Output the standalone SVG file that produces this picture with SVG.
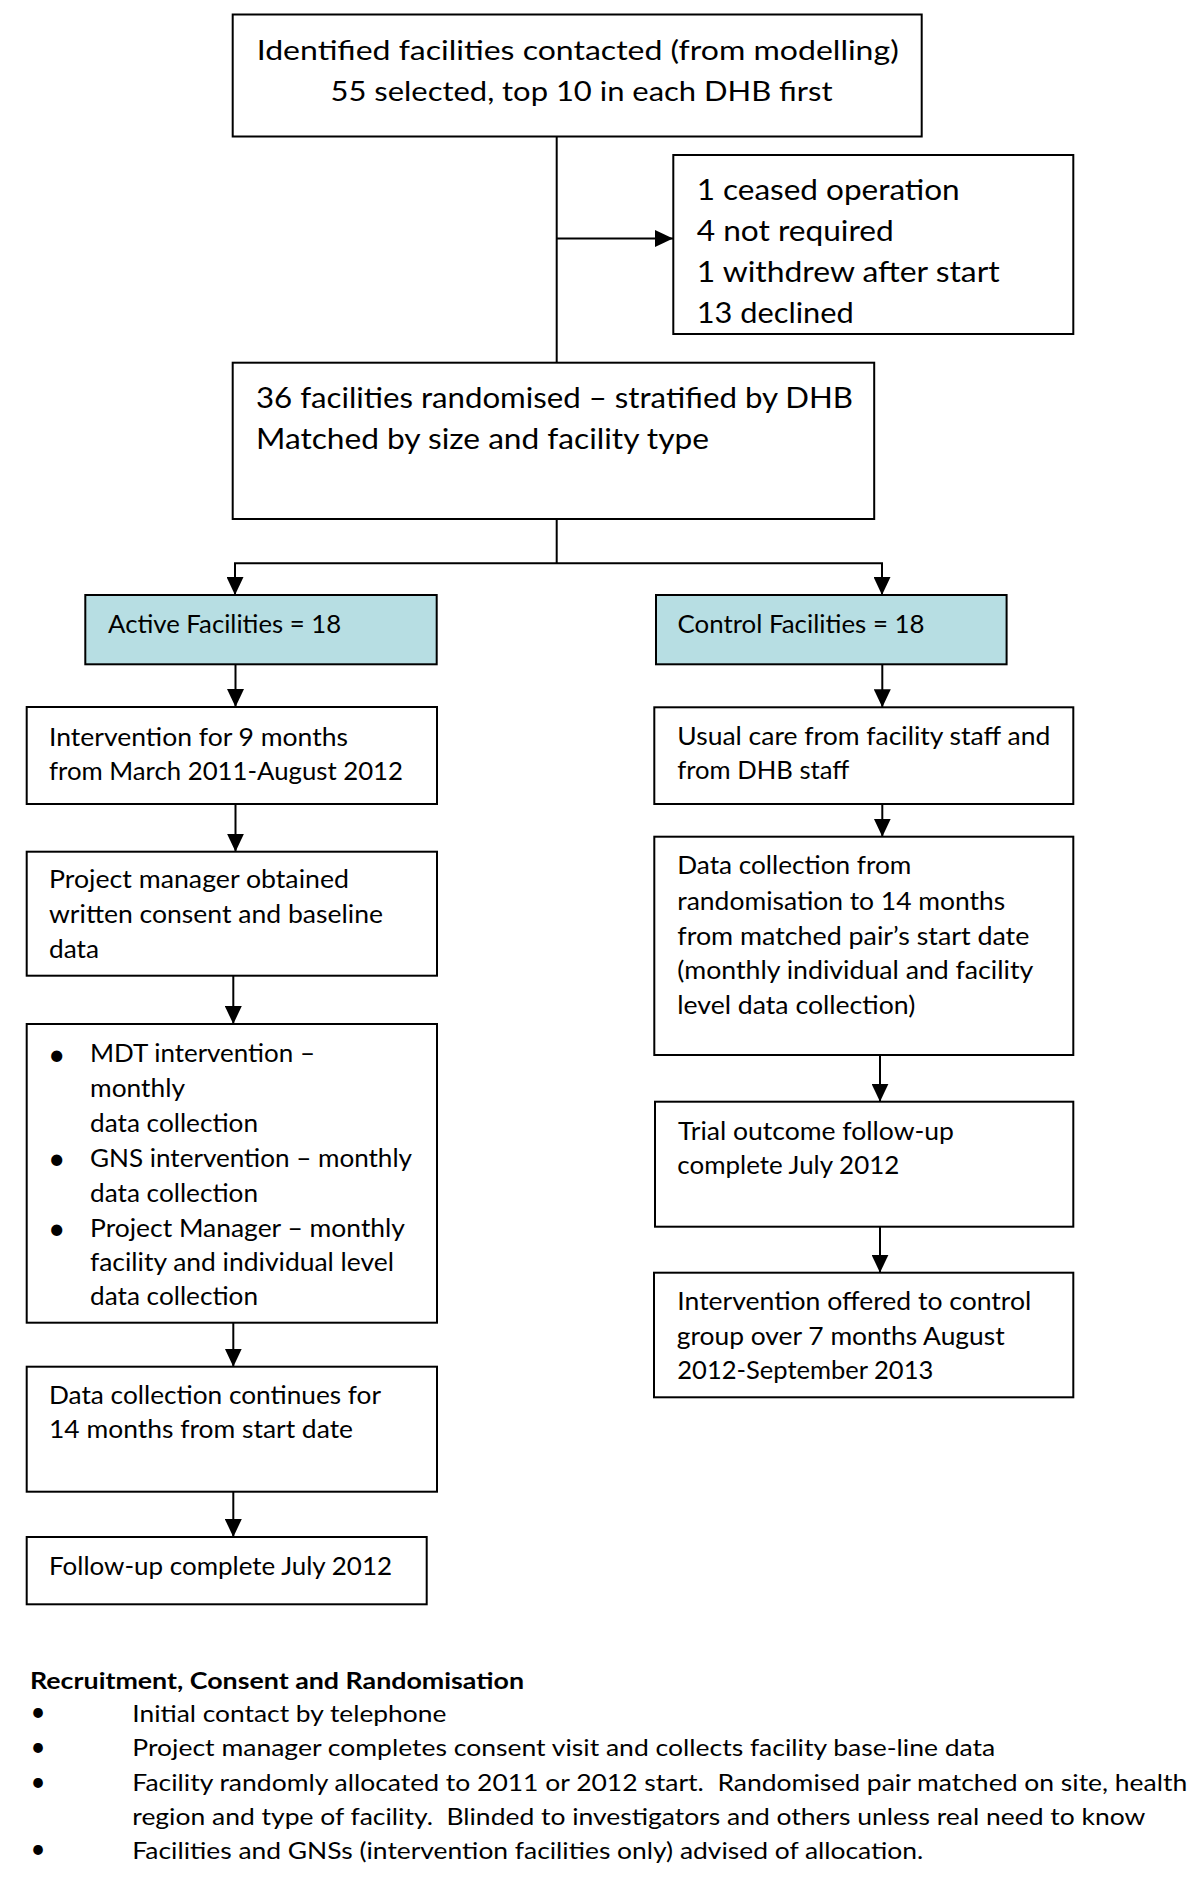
<svg xmlns="http://www.w3.org/2000/svg" width="1200" height="1884" viewBox="0 0 1200 1884">
<style>
  .box { fill: #ffffff; stroke: #000; stroke-width: 2; }
  .hl { fill: #b7dee3; stroke: #000; stroke-width: 2; }
  .t { font-family: Lato, "Open Sans", "Liberation Sans", sans-serif; fill: #000; font-size: 25px; }
  .t27 { font-size: 27px; }
  .t28 { font-size: 28px; }
  .t29 { font-size: 29px; }
  .t24 { font-size: 23.5px; }
  .bold { font-weight: bold; }
  .bul { font-family: Lato, "Liberation Sans", sans-serif; font-size: 30px; fill: #000; text-anchor: middle; }
  .bul2 { font-size: 26px; }
  .c { stroke: #000; stroke-width: 2; fill: none; }
</style>
<defs>
  <marker id="ah" viewBox="0 0 18 17" refX="18" refY="8.5" markerWidth="18" markerHeight="17" markerUnits="userSpaceOnUse" orient="auto">
    <path d="M0,0 L18,8.5 L0,17 z" fill="#000"/>
  </marker>
</defs>
<rect width="1200" height="1884" fill="#ffffff"/>

<g id="connectors">
  <line class="c" x1="556.7" y1="136.5" x2="556.7" y2="363"/>
  <line class="c" x1="556.7" y1="238.5" x2="673" y2="238.5" marker-end="url(#ah)"/>
  <line class="c" x1="556.7" y1="519" x2="556.7" y2="563.3"/>
  <line class="c" x1="234" y1="563.3" x2="883" y2="563.3"/>
  <line class="c" x1="235" y1="563.3" x2="235" y2="595" marker-end="url(#ah)"/>
  <line class="c" x1="882" y1="563.3" x2="882" y2="595" marker-end="url(#ah)"/>
  <line class="c" x1="235.5" y1="664.3" x2="235.5" y2="707" marker-end="url(#ah)"/>
  <line class="c" x1="235.5" y1="804" x2="235.5" y2="851.7" marker-end="url(#ah)"/>
  <line class="c" x1="233.3" y1="975.7" x2="233.3" y2="1024" marker-end="url(#ah)"/>
  <line class="c" x1="233.3" y1="1322.7" x2="233.3" y2="1366.7" marker-end="url(#ah)"/>
  <line class="c" x1="233.3" y1="1491.7" x2="233.3" y2="1537" marker-end="url(#ah)"/>
  <line class="c" x1="882.3" y1="664.3" x2="882.3" y2="707.3" marker-end="url(#ah)"/>
  <line class="c" x1="882.3" y1="804" x2="882.3" y2="836.7" marker-end="url(#ah)"/>
  <line class="c" x1="880" y1="1055" x2="880" y2="1101.7" marker-end="url(#ah)"/>
  <line class="c" x1="880" y1="1226.7" x2="880" y2="1272.7" marker-end="url(#ah)"/>
</g>

<g id="identified">
  <rect class="box" x="232.7" y="14.5" width="689" height="122"/>
  <text class="t t27" x="256.7" y="60" textLength="642" lengthAdjust="spacingAndGlyphs">Identified facilities contacted (from modelling)</text>
  <text class="t t27" x="330.5" y="101" textLength="502" lengthAdjust="spacingAndGlyphs">55 selected, top 10 in each DHB first</text>
</g>

<g id="excluded">
  <rect class="box" x="673.3" y="155" width="400" height="179"/>
  <text class="t t28" x="696.7" y="200" textLength="263" lengthAdjust="spacingAndGlyphs">1 ceased operation</text>
  <text class="t t28" x="696.7" y="240.7" textLength="197" lengthAdjust="spacingAndGlyphs">4 not required</text>
  <text class="t t28" x="696.7" y="281.7" textLength="303" lengthAdjust="spacingAndGlyphs">1 withdrew after start</text>
  <text class="t t28" x="696.7" y="323.3" textLength="157" lengthAdjust="spacingAndGlyphs">13 declined</text>
</g>

<g id="randomised">
  <rect class="box" x="232.7" y="362.7" width="641.5" height="156.3"/>
  <text class="t t29" x="256" y="407.7" textLength="597" lengthAdjust="spacingAndGlyphs">36 facilities randomised – stratified by DHB</text>
  <text class="t t29" x="256" y="448.5" textLength="453" lengthAdjust="spacingAndGlyphs">Matched by size and facility type</text>
</g>

<g id="active">
  <rect class="hl" x="85.3" y="595" width="351.4" height="69.3"/>
  <text class="t" x="108.1" y="633.3" textLength="233" lengthAdjust="spacingAndGlyphs">Active Facilities = 18</text>
</g>

<g id="control">
  <rect class="hl" x="656" y="595" width="350.6" height="69.3"/>
  <text class="t" x="677.5" y="633.3" textLength="247" lengthAdjust="spacingAndGlyphs">Control Facilities = 18</text>
</g>

<g id="intervention">
  <rect class="box" x="26.7" y="707" width="410.3" height="97"/>
  <text class="t" x="49" y="745.7" textLength="299" lengthAdjust="spacingAndGlyphs">Intervention for 9 months</text>
  <text class="t" x="49" y="780" textLength="354" lengthAdjust="spacingAndGlyphs">from March 2011-August 2012</text>
</g>

<g id="consent">
  <rect class="box" x="26.7" y="851.7" width="410.3" height="124"/>
  <text class="t" x="49" y="888.3" textLength="300" lengthAdjust="spacingAndGlyphs">Project manager obtained</text>
  <text class="t" x="49" y="923.3" textLength="334" lengthAdjust="spacingAndGlyphs">written consent and baseline</text>
  <text class="t" x="49" y="957.7" textLength="50" lengthAdjust="spacingAndGlyphs">data</text>
</g>

<g id="activities">
  <rect class="box" x="26.7" y="1024" width="410.3" height="298.7"/>
  <text class="bul" x="56.7" y="1065">•</text>
  <text class="bul" x="56.7" y="1169">•</text>
  <text class="bul" x="56.7" y="1238.5">•</text>
  <text class="t" x="90" y="1062.3" textLength="225" lengthAdjust="spacingAndGlyphs">MDT intervention –</text>
  <text class="t" x="90" y="1096.7" textLength="95" lengthAdjust="spacingAndGlyphs">monthly</text>
  <text class="t" x="90" y="1131.7" textLength="168" lengthAdjust="spacingAndGlyphs">data collection</text>
  <text class="t" x="90" y="1166.7" textLength="322" lengthAdjust="spacingAndGlyphs">GNS intervention – monthly</text>
  <text class="t" x="90" y="1201.7" textLength="168" lengthAdjust="spacingAndGlyphs">data collection</text>
  <text class="t" x="90" y="1236.7" textLength="315" lengthAdjust="spacingAndGlyphs">Project Manager – monthly</text>
  <text class="t" x="90" y="1270.7" textLength="304" lengthAdjust="spacingAndGlyphs">facility and individual level</text>
  <text class="t" x="90" y="1305" textLength="168" lengthAdjust="spacingAndGlyphs">data collection</text>
</g>

<g id="datacontinues">
  <rect class="box" x="26.7" y="1366.7" width="410.3" height="125"/>
  <text class="t" x="49" y="1404" textLength="332" lengthAdjust="spacingAndGlyphs">Data collection continues for</text>
  <text class="t" x="49" y="1438.3" textLength="304" lengthAdjust="spacingAndGlyphs">14 months from start date</text>
</g>

<g id="followup">
  <rect class="box" x="26.7" y="1537" width="400" height="67.3"/>
  <text class="t" x="49" y="1575" textLength="343" lengthAdjust="spacingAndGlyphs">Follow-up complete July 2012</text>
</g>

<g id="usualcare">
  <rect class="box" x="654.3" y="707.3" width="419" height="96.7"/>
  <text class="t" x="677.3" y="745" textLength="373" lengthAdjust="spacingAndGlyphs">Usual care from facility staff and</text>
  <text class="t" x="677.3" y="779.3" textLength="172" lengthAdjust="spacingAndGlyphs">from DHB staff</text>
</g>

<g id="controldata">
  <rect class="box" x="654.3" y="836.7" width="419" height="218.3"/>
  <text class="t" x="677.3" y="874.3" textLength="234" lengthAdjust="spacingAndGlyphs">Data collection from</text>
  <text class="t" x="677.3" y="910" textLength="328" lengthAdjust="spacingAndGlyphs">randomisation to 14 months</text>
  <text class="t" x="677.3" y="945" textLength="352" lengthAdjust="spacingAndGlyphs">from matched pair’s start date</text>
  <text class="t" x="677.3" y="979" textLength="356" lengthAdjust="spacingAndGlyphs">(monthly individual and facility</text>
  <text class="t" x="677.3" y="1014.3" textLength="238" lengthAdjust="spacingAndGlyphs">level data collection)</text>
</g>

<g id="trial">
  <rect class="box" x="655" y="1101.7" width="418.3" height="125"/>
  <text class="t" x="678" y="1140" textLength="276" lengthAdjust="spacingAndGlyphs">Trial outcome follow-up</text>
  <text class="t" x="677.3" y="1174" textLength="222" lengthAdjust="spacingAndGlyphs">complete July 2012</text>
</g>

<g id="offered">
  <rect class="box" x="654" y="1272.7" width="419.3" height="124.6"/>
  <text class="t" x="677.3" y="1310" textLength="354" lengthAdjust="spacingAndGlyphs">Intervention offered to control</text>
  <text class="t" x="676.7" y="1345" textLength="328" lengthAdjust="spacingAndGlyphs">group over 7 months August</text>
  <text class="t" x="677.3" y="1379" textLength="256" lengthAdjust="spacingAndGlyphs">2012-September 2013</text>
</g>

<g id="notes">
  <text class="t t24 bold" x="30" y="1689" textLength="494" lengthAdjust="spacingAndGlyphs">Recruitment, Consent and Randomisation</text>
  <text class="bul bul2" x="38" y="1721">•</text>
  <text class="bul bul2" x="38" y="1756">•</text>
  <text class="bul bul2" x="38" y="1790.5">•</text>
  <text class="bul bul2" x="38" y="1858">•</text>
  <text class="t t24" x="132.3" y="1721.7" textLength="314" lengthAdjust="spacingAndGlyphs">Initial contact by telephone</text>
  <text class="t t24" x="132.3" y="1756.3" textLength="863" lengthAdjust="spacingAndGlyphs">Project manager completes consent visit and collects facility base-line data</text>
  <text class="t t24" x="132.3" y="1790.5" textLength="1055" lengthAdjust="spacingAndGlyphs" xml:space="preserve">Facility randomly allocated to 2011 or 2012 start.  Randomised pair matched on site, health</text>
  <text class="t t24" x="132.3" y="1825" textLength="1013" lengthAdjust="spacingAndGlyphs" xml:space="preserve">region and type of facility.  Blinded to investigators and others unless real need to know</text>
  <text class="t t24" x="132.3" y="1858.5" textLength="791" lengthAdjust="spacingAndGlyphs">Facilities and GNSs (intervention facilities only) advised of allocation.</text>
</g>
</svg>
